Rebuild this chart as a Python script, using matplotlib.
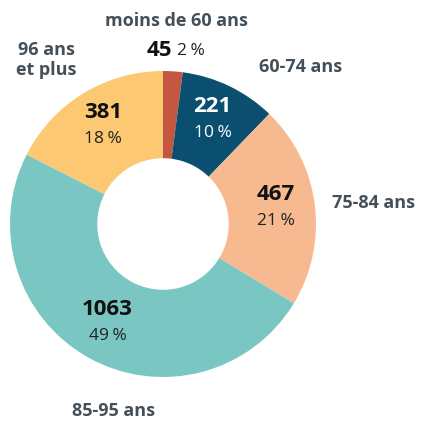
import numpy as np
import matplotlib.pyplot as plt

plt.rcParams['font.family'] = ['Open Sans', 'DejaVu Sans']

categories = ["moins de 60 ans", "60-74 ans", "75-84 ans", "85-95 ans", "96 ans\net plus"]
values = [45, 221, 467, 1063, 381]
percents = [2, 10, 21, 49, 18]
colors = ["#c4573f", "#0a4f70", "#f6b990", "#79c6c3", "#fcc872"]
num_colors = ["#111111", "white", "#111111", "#111111", "#111111"]
pct_colors = ["#222222", "white", "#222222", "#222222", "#222222"]

label_gray = "#444f57"

fig = plt.figure(figsize=(4.22, 4.21), dpi=100)
ax = fig.add_axes([0, 0, 1, 1])

cx, cy, R = 163, 197, 153
wedges, _ = ax.pie(values, colors=colors, startangle=90, counterclock=False,
                   radius=R, center=(cx, cy), frame=True,
                   wedgeprops=dict(width=R * 0.57, linewidth=0))
ax.set_xlim(0, 422)
ax.set_ylim(0, 421)
ax.set_aspect('equal')
ax.axis('off')

# labels inside the ring (all but the small first slice)
for i, w in enumerate(wedges):
    if i == 0:
        continue
    mid = np.deg2rad((w.theta1 + w.theta2) / 2)
    r = 114
    x = cx + r * np.cos(mid)
    y = cy + r * np.sin(mid)
    ax.text(x, y + 4, str(values[i]), ha='center', va='bottom', fontsize=16,
            fontweight='bold', color=num_colors[i])
    ax.text(x, y - 4, f"{percents[i]}\u202f%", ha='center', va='top', fontsize=12.5,
            color=pct_colors[i])

# small slice: number and percent above the ring
ax.text(172, 370, str(values[0]), ha='right', va='center', fontsize=16,
        fontweight='bold', color="#111111")
ax.text(177, 370, f"{percents[0]}\u202f%", ha='left', va='center', fontsize=12.5,
        color="#222222")

# category labels outside
cat_pos = [(176, 400, 'center'), (301, 354, 'center'), (332, 218, 'left'),
           (114, 10, 'center'), (46, 361, 'center')]
for (x, y, ha), name in zip(cat_pos, categories):
    ax.text(x, y, name, ha=ha, va='center', fontsize=13, fontweight='bold',
            color=label_gray, linespacing=1.2)

fig.savefig("out.png", dpi=100)
